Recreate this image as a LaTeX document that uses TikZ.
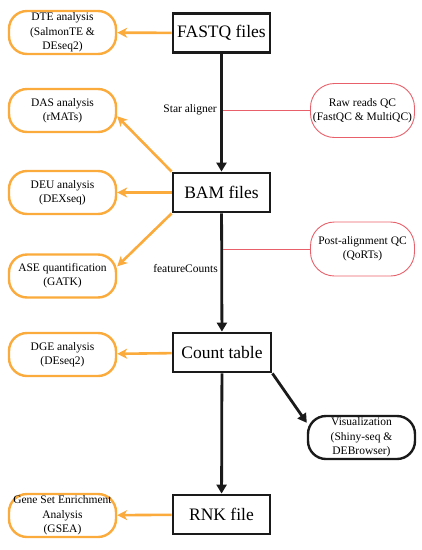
\documentclass[tikz,border=0pt]{standalone}
\usepackage{fontspec}
\setmainfont{Liberation Serif}
\usetikzlibrary{arrows.meta,calc}
\definecolor{orng}{HTML}{FBAA3C}
\definecolor{pnk}{HTML}{E8606A}
\definecolor{ink}{HTML}{1A1A1A}
\begin{document}
\begin{tikzpicture}[x=1pt,y=-1pt,
  filebox/.style={draw=ink,line width=2.8pt,minimum width=97pt,minimum height=39pt,inner sep=0pt,font=\fontsize{17.5}{20}\selectfont},
  obox/.style={draw=orng,line width=2.4pt,rounded corners=18pt,minimum width=107pt,minimum height=43pt,inner sep=0pt,align=center,font=\fontsize{11.5}{14.3}\selectfont},
  rbox/.style={draw=pnk,line width=0.9pt,rounded corners=24pt,minimum width=104pt,minimum height=54pt,inner sep=0pt,align=center,font=\fontsize{11.5}{14.3}\selectfont},
  kbox/.style={draw=ink,line width=2.4pt,rounded corners=18pt,minimum width=107pt,minimum height=43pt,inner sep=0pt,align=center,font=\fontsize{11.5}{14.3}\selectfont},
  oarr/.style={draw=orng,line width=2.6pt,-{Stealth[length=10pt,width=10pt,inset=3pt]}},
  karr/.style={draw=ink,line width=2.8pt,-{Triangle[length=9pt,width=10pt]}},
  rline/.style={draw=pnk,line width=0.8pt},
  lbl/.style={font=\fontsize{11.5}{14}\selectfont,inner sep=0pt}
]
\useasboundingbox (0,0) rectangle (422,550);
\node[filebox] (fastq) at (221.5,33) {FASTQ files};
\node[filebox] (bam) at (221.5,192.5) {BAM files};
\node[filebox,minimum width=98pt] (count) at (222,352.5) {Count table};
\node[filebox] (rnk) at (221.5,514.5) {RNK file};

\node[obox] (dte) at (62.5,32.5) {DTE analysis\\(SalmonTE \&\\DEseq2)};
\node[obox] (das) at (62.5,110.5) {DAS analysis\\(rMATs)};
\node[obox] (deu) at (62.5,192.5) {DEU analysis\\(DEXseq)};
\node[obox] (ase) at (62.5,276) {ASE quantification\\(GATK)};
\node[obox] (dge) at (62.5,354.5) {DGE analysis\\(DEseq2)};
\node[obox] (gsea) at (62.5,515.5) {Gene Set Enrichment\\Analysis\\(GSEA)};

\node[rbox] (raw) at (362.5,110.5) {Raw reads QC\\(FastQC \& MultiQC)};
\node[rbox] (post) at (362.5,249) {Post-alignment QC\\(QoRTs)};
\node[kbox] (vis) at (361.5,437.5) {Visualization\\(Shiny-seq \&\\DEBrowser)};

\draw[karr] (fastq) -- (bam);
\draw[karr] (bam) -- (count);
\draw[karr] (count) -- (rnk);
\draw[karr] (count.south east) -- (vis.165);

\draw[oarr] (fastq) -- (dte);
\draw[oarr] (bam.north west) -- (das.-6);
\draw[oarr] (bam) -- (deu);
\draw[oarr] (bam.south west) -- (ase.10);
\draw[oarr] (count) -- (dge);
\draw[oarr] (rnk) -- (gsea);

\draw[rline] (raw.west) -- ([xshift=1.5pt]fastq.south |- raw.west);
\draw[rline] (post.west) -- ([xshift=1.5pt]bam.south |- post.west);

\node[lbl,anchor=east] (sa) at (217,110) {Star aligner};
\node[lbl,anchor=east] (fc) at (218,269) {featureCounts};
\end{tikzpicture}
\end{document}
